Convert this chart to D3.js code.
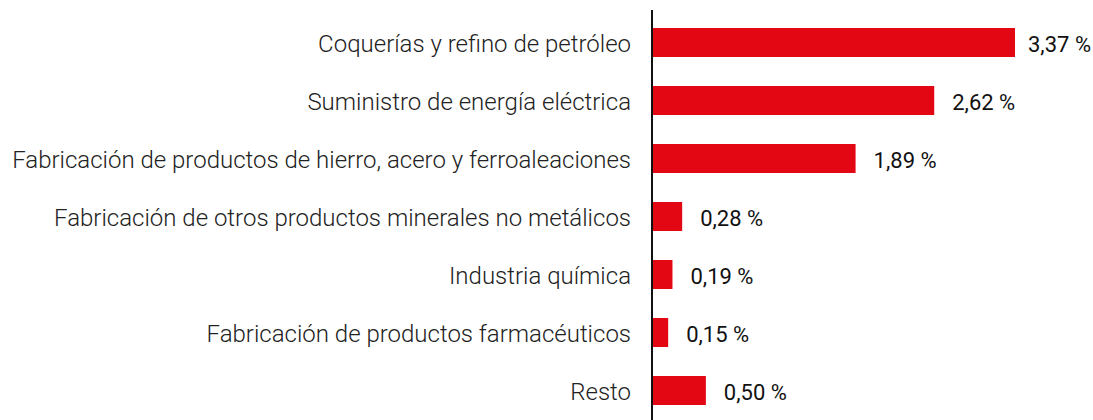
<!DOCTYPE html>
<html>
<head>
<meta charset="utf-8">
<script src="https://cdn.jsdelivr.net/npm/d3@7"></script>
<style>
  html, body { margin: 0; padding: 0; background: #fff; }
  svg { display: block; }
</style>
</head>
<body>
<script>
// Sector shares, percentages
const categories = [
  "Coquerías y refino de petróleo",
  "Suministro de energía eléctrica",
  "Fabricación de productos de hierro, acero y ferroaleaciones",
  "Fabricación de otros productos minerales no metálicos",
  "Industria química",
  "Fabricación de productos farmacéuticos",
  "Resto"
];
const values = [3.37, 2.62, 1.89, 0.28, 0.19, 0.15, 0.50];

const W = 1093, H = 420;
const axisX = 652;

const svg = d3.select("body").append("svg")
  .attr("width", W).attr("height", H);

const x = d3.scaleLinear().domain([0, 3.37]).range([axisX, 1015]);
const y = d3.scaleBand().domain(categories).range([13.5, 419.5])
  .paddingInner(0.5).paddingOuter(0.25);

const fmt = v => d3.format(".2f")(v).replace(".", ",") + " %";
const font = "Roboto, 'Open Sans', sans-serif";

// bars
svg.selectAll("rect.bar").data(values).join("rect")
  .attr("class", "bar")
  .attr("x", x(0))
  .attr("y", (d, i) => y(categories[i]))
  .attr("width", d => x(d) - x(0))
  .attr("height", y.bandwidth())
  .attr("fill", "#e30613");

// category labels
svg.selectAll("text.cat").data(categories).join("text")
  .attr("class", "cat")
  .attr("x", axisX - 21)
  .attr("y", d => y(d) + y.bandwidth() / 2)
  .attr("dy", "0.4em")
  .attr("text-anchor", "end")
  .attr("font-family", font)
  .attr("font-size", 24)
  .attr("font-weight", 300)
  .attr("fill", "#222")
  .text(d => d);

// value labels
const vl = svg.selectAll("text.val").data(values).join("text")
  .attr("class", "val")
  .attr("y", (d, i) => y(categories[i]) + y.bandwidth() / 2)
  .attr("dy", "0.42em")
  .attr("font-family", font)
  .attr("font-size", 22)
  .attr("font-weight", 400)
  .attr("fill", "#111")
  .text(fmt);
vl.each(function(d) {
  const w = this.getComputedTextLength();
  d3.select(this).attr("x", Math.min(x(d) + 18, W - w - 2));
});

// vertical axis line
svg.append("line")
  .attr("x1", axisX).attr("x2", axisX)
  .attr("y1", 10).attr("y2", H)
  .attr("stroke", "#111").attr("stroke-width", 2);
</script>
</body>
</html>
